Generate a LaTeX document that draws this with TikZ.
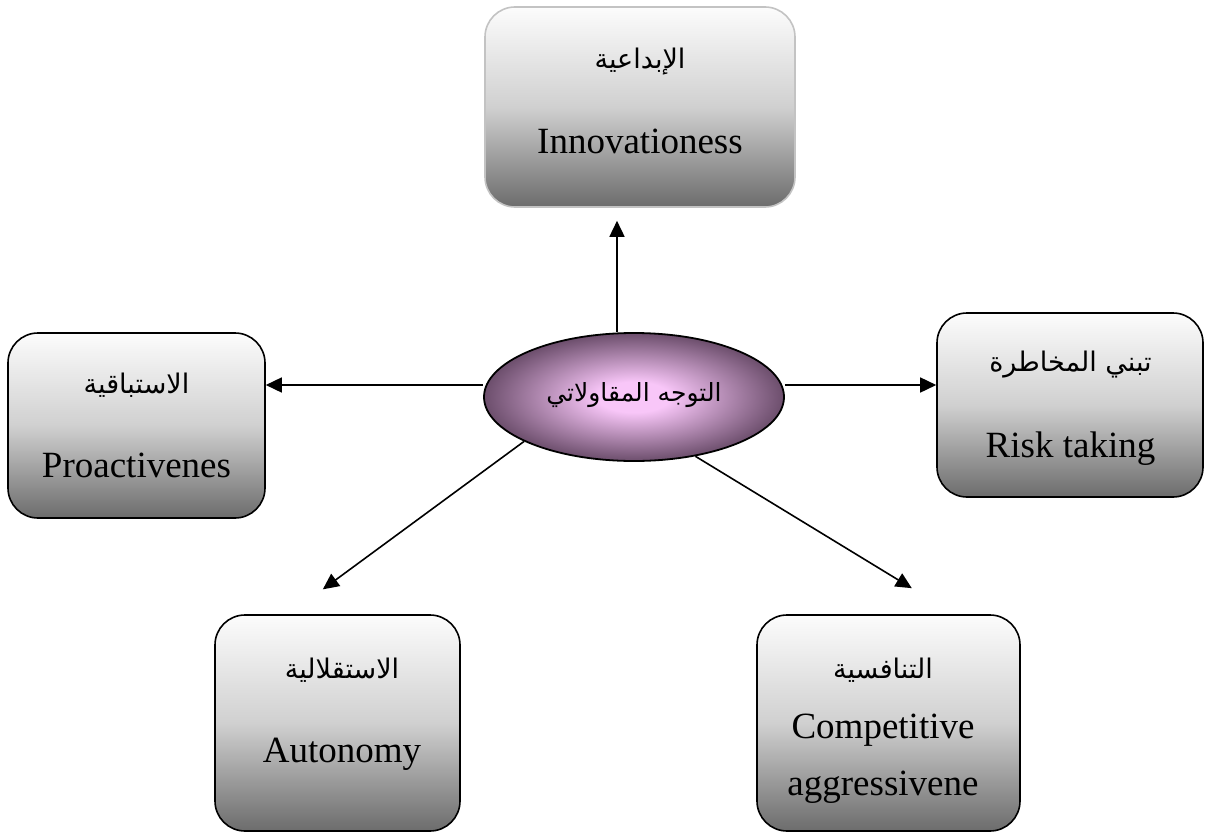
\documentclass[tikz,border=0pt]{standalone}
\usepackage{fontspec}
\setmainfont{Liberation Serif}
\newfontfamily\arabicfont[Script=Arabic]{DejaVu Sans}
\TeXXeTstate=1
\usetikzlibrary{arrows.meta,shapes.geometric}
\definecolor{boxbot}{RGB}{108,108,108}
\definecolor{boxmid}{RGB}{208,208,208}
\definecolor{boxtop}{RGB}{252,252,252}
\definecolor{ellin}{RGB}{248,198,248}
\definecolor{ellout}{RGB}{108,78,108}
\definecolor{lightedge}{RGB}{195,195,195}
\pgfdeclareradialshading{ellshade}{\pgfpoint{0bp}{0bp}}{color(0bp)=(ellin); color(6bp)=(ellin); color(25bp)=(ellout); color(50bp)=(ellout)}
\begin{document}
\begin{tikzpicture}[x=1pt,y=-1pt,
  box/.style={rectangle, rounded corners=30pt, line width=1.6pt, draw=black,
    top color=boxtop, bottom color=boxbot, middle color=boxmid, inner sep=0pt},
  eng/.style={font=\fontsize{37}{40}\selectfont, anchor=base, inner sep=0pt},
  ar/.style={font=\arabicfont\fontsize{27}{32}\selectfont, inner sep=0pt},
  arr/.style={line width=1.6pt, -{Triangle[length=16pt,width=15pt]}}]
\useasboundingbox (0,0) rectangle (1205,835);

% boxes
\node[box, draw=lightedge, minimum width=310pt, minimum height=200pt] (top) at (640,107) {};
\node[box, minimum width=257pt, minimum height=185pt] (left) at (136.5,425.5) {};
\node[box, minimum width=266pt, minimum height=184pt] (right) at (1070,405) {};
\node[box, minimum width=245pt, minimum height=216pt] (bl) at (337.5,723) {};
\node[box, minimum width=263pt, minimum height=216pt] (br) at (888.5,723) {};

% ellipse
\node[ellipse, draw=black, line width=1.8pt, shading=ellshade,
  minimum width=300pt, minimum height=128pt, inner sep=0pt] (ell) at (634,397) {};

% texts
\node[ar] (topar) at (640,62) {\beginR الإبداعية\endR};
\node[eng] (topen) at (640,153) {Innovationess};
\node[ar] (leftar) at (136.5,385) {\beginR الاستباقية\endR};
\node[eng] (leften) at (136.5,477) {Proactivenes};
\node[ar] (rightar) at (1070.5,365) {\beginR تبني المخاطرة\endR};
\node[eng] (righten) at (1070.5,457) {Risk taking};
\node[ar] (blar) at (342,670) {\beginR الاستقلالية\endR};
\node[eng] (blen) at (342,762) {Autonomy};
\node[ar] (brar) at (883,670) {\beginR التنافسية\endR};
\node[eng] (bren) at (883,738) {Competitive};
\begin{scope}
\clip (757,600) rectangle (1020,812);
\node[eng] (bren2) at (883,795) {aggressivene};
\end{scope}
\node[ar, font=\arabicfont\fontsize{25}{30}\selectfont] (ellar) at (634,395) {\beginR التوجه المقاولاتي\endR};

% connectors
\draw[arr, shorten >=13pt] ([xshift=-17pt]ell.north) -- ([xshift=-23pt]top.south);
\draw[arr] ([yshift=12pt]ell.west) -- ([yshift=40.5pt]left.east);
\draw[arr] ([yshift=12pt]ell.east) -- ([yshift=20pt]right.west);
\draw[arr, shorten >=42pt] (ell.202.5) -- ([xshift=-48.5pt]bl.north);
\draw[arr, shorten >=50pt] (ell.316) -- ([xshift=66pt]br.north);
\end{tikzpicture}
\end{document}
